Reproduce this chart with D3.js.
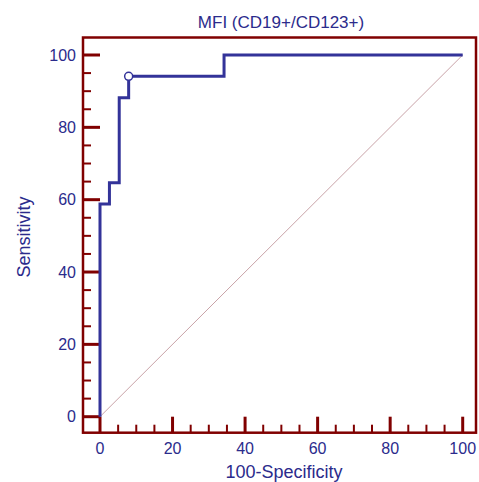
<!DOCTYPE html>
<html><head><meta charset="utf-8">
<script src="https://cdn.jsdelivr.net/npm/d3@7"></script>
<style>body{margin:0;background:#fff}svg{display:block}</style>
</head><body>
<script>
const title = "MFI (CD19+/CD123+)";
const xLabel = "100-Specificity";
const yLabel = "Sensitivity";
const rocX = [0, 0, 2.6, 2.6, 5.3, 5.3, 7.9, 7.9, 34.2, 34.2, 100];
const rocY = [0, 58.8, 58.8, 64.7, 64.7, 88.2, 88.2, 94.1, 94.1, 100, 100];
const cutX = [7.9];
const cutY = [94.1];
const majorTicks = [0, 20, 40, 60, 80, 100];
const minorTicks = [5,10,15,25,30,35,45,50,55,65,70,75,85,90,95];

const W = 479, H = 482;
const frameC = "#800000", textC = "#2b2b8c", lineC = "#333399";
const svg = d3.select("body").append("svg").attr("width", W).attr("height", H);
const x = d3.scaleLinear().domain([0, 100]).range([100, 462.7]);
const y = d3.scaleLinear().domain([0, 100]).range([416.7, 55]);
const fL = 83, fR = 476, fT = 37.5, fB = 432.7;
const font = "Arial, 'Liberation Sans', sans-serif";

// diagonal
svg.append("line").attr("x1", x(0)).attr("y1", y(0)).attr("x2", x(100)).attr("y2", y(100))
  .attr("stroke", "#c9a3a8").attr("stroke-width", 1);

// ticks left
const gl = svg.append("g");
gl.selectAll("line.maj").data(majorTicks).join("line").attr("class","maj")
  .attr("x1", fL).attr("x2", fL + 17).attr("y1", d => y(d)).attr("y2", d => y(d))
  .attr("stroke", frameC).attr("stroke-width", 3);
gl.selectAll("line.min").data(minorTicks).join("line").attr("class","min")
  .attr("x1", fL).attr("x2", fL + 8).attr("y1", d => y(d)).attr("y2", d => y(d))
  .attr("stroke", frameC).attr("stroke-width", 2);
gl.selectAll("text").data(majorTicks).join("text")
  .attr("x", 76).attr("y", d => y(d) + 5.5).attr("text-anchor", "end")
  .attr("font-family", font).attr("font-size", 16).attr("fill", textC).text(d => d);

// ticks bottom
const gb = svg.append("g");
gb.selectAll("line.maj").data(majorTicks).join("line").attr("class","maj")
  .attr("y1", fB).attr("y2", fB - 16).attr("x1", d => x(d)).attr("x2", d => x(d))
  .attr("stroke", frameC).attr("stroke-width", 3);
gb.selectAll("line.min").data(minorTicks).join("line").attr("class","min")
  .attr("y1", fB).attr("y2", fB - 8).attr("x1", d => x(d)).attr("x2", d => x(d))
  .attr("stroke", frameC).attr("stroke-width", 2);
gb.selectAll("text").data(majorTicks).join("text")
  .attr("x", d => x(d)).attr("y", 454.3).attr("text-anchor", "middle")
  .attr("font-family", font).attr("font-size", 16).attr("fill", textC).text(d => d);

// frame
svg.append("rect").attr("x", fL).attr("y", fT).attr("width", fR - fL).attr("height", fB - fT)
  .attr("fill", "none").attr("stroke", frameC).attr("stroke-width", 2.5);

// ROC curve
const pts = rocX.map((v, i) => [v, rocY[i]]);
svg.append("path").attr("d", d3.line().x(d => x(d[0])).y(d => y(d[1]))(pts))
  .attr("fill", "none").attr("stroke", lineC).attr("stroke-width", 3);
svg.selectAll("circle").data(cutX.map((v, i) => [v, cutY[i]])).join("circle")
  .attr("cx", d => x(d[0])).attr("cy", d => y(d[1])).attr("r", 4)
  .attr("fill", "#fff").attr("stroke", lineC).attr("stroke-width", 1.5);

// titles
svg.append("text").attr("x", 281).attr("y", 28.3).attr("text-anchor", "middle")
  .attr("font-family", font).attr("font-size", 17).attr("fill", textC).text(title);
svg.append("text").attr("x", 284).attr("y", 477.5).attr("text-anchor", "middle")
  .attr("font-family", font).attr("font-size", 18).attr("fill", textC).text(xLabel);
svg.append("text").attr("transform", "translate(29.6,237) rotate(-90)").attr("text-anchor", "middle")
  .attr("font-family", font).attr("font-size", 18).attr("fill", textC).text(yLabel);
</script>
</body></html>
